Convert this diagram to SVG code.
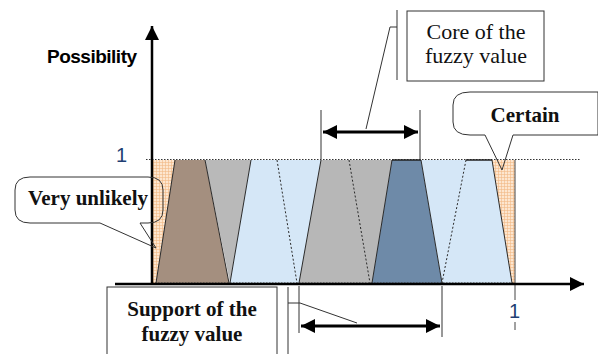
<svg xmlns="http://www.w3.org/2000/svg" width="598" height="354" viewBox="0 0 598 354">
<defs>
<style>
.edge{stroke:#2a2a2a;stroke-width:1;fill:none}
.dash{stroke:#2a2a2a;stroke-width:1;fill:none;stroke-dasharray:2 2}
.thin{stroke:#333;stroke-width:1;fill:none}
.box{fill:#fff;stroke:#333;stroke-width:1}
.tr{font-family:"Liberation Serif","Times New Roman",serif;font-size:22px;fill:#111;text-anchor:middle}
.trb{font-family:"Liberation Serif","Times New Roman",serif;font-size:21px;font-weight:bold;fill:#111;text-anchor:middle}
.ax{stroke:#000;stroke-width:2.5;fill:none}
.num{font-family:"Liberation Sans",Arial,sans-serif;font-size:20px;fill:#1f3f73}
</style>
<marker id="ah" viewBox="0 0 10 10" refX="10" refY="5" markerWidth="14" markerHeight="14" markerUnits="userSpaceOnUse" orient="auto-start-reverse">
<path d="M0,0 L10,5 L0,10 z" fill="#000"/>
</marker>
<pattern id="grid" width="3" height="3" patternUnits="userSpaceOnUse">
<rect width="3" height="3" fill="#fde6cf"/>
<path d="M0,0.5H3M0.5,0V3" stroke="#f2b884" stroke-width="0.6"/>
</pattern>
</defs>

<g id="regions">
<polygon points="152,160 175,160 156,283 152,283" fill="url(#grid)"/>
<polygon points="175,160 205,160 229,283 156,283" fill="#a48f7f"/>
<polygon points="205,160 251,160 230,283" fill="#b9b9b9"/>
<polygon points="251,160 321,160 299,283 230,283" fill="#d5e7f7"/>
<polygon points="321,160 392,160 372,283 299,283" fill="#b7b7b7"/>
<polygon points="392,160 421,160 442,283 372,283" fill="#6e8aa8"/>
<polygon points="421,160 492,160 512,283 442,283" fill="#d5e7f7"/>
<polygon points="492,160 515,160 515,283 512,283" fill="url(#grid)"/>
<line class="edge" x1="175" y1="160" x2="156" y2="283"/>
<line class="edge" x1="205" y1="160" x2="229" y2="283"/>
<line class="edge" x1="251" y1="160" x2="230" y2="283"/>
<line class="dash" x1="277" y1="160" x2="297" y2="283"/>
<line class="edge" x1="321" y1="160" x2="299" y2="283"/>
<line class="dash" x1="349" y1="160" x2="370" y2="283"/>
<line class="edge" x1="392" y1="160" x2="372" y2="283"/>
<line class="edge" x1="421" y1="160" x2="442" y2="283"/>
<line class="dash" x1="466" y1="160" x2="442" y2="283"/>
<line class="edge" x1="492" y1="160" x2="512" y2="283"/>
<line x1="146" y1="159.5" x2="580" y2="159.5" stroke="#333" stroke-width="1.2" stroke-dasharray="1.5 1.5"/>
<line x1="392" y1="160" x2="421" y2="160" stroke="#222" stroke-width="1.5"/>
<line x1="466" y1="160" x2="492" y2="160" stroke="#222" stroke-width="1.5"/>
<line x1="152" y1="283" x2="515" y2="283" stroke="#444" stroke-width="1" stroke-dasharray="1.5 1.5"/>
<line x1="515" y1="160" x2="515" y2="300" stroke="#444" stroke-width="1"/>
<line x1="515" y1="322" x2="515" y2="330" stroke="#444" stroke-width="1"/>
</g>

<g id="axes">
<line class="ax" x1="152" y1="285" x2="152" y2="26" marker-end="url(#ah)"/>
<line class="ax" x1="115" y1="284" x2="584" y2="284" marker-end="url(#ah)"/>
<text x="47" y="63" font-family="Liberation Sans,Arial,sans-serif" font-size="19" font-weight="bold" letter-spacing="-0.5" fill="#000">Possibility</text>
<text class="num" x="116" y="162">1</text>
<text class="num" x="509" y="318">1</text>
</g>

<g id="connectors">
<line class="thin" x1="321" y1="110" x2="321" y2="159"/>
<line class="thin" x1="420" y1="110" x2="420" y2="159"/>
<line x1="323" y1="132" x2="418" y2="132" stroke="#000" stroke-width="3" marker-start="url(#ah)" marker-end="url(#ah)"/>
<line class="thin" x1="299" y1="286" x2="299" y2="333"/>
<line class="thin" x1="442" y1="286" x2="442" y2="337"/>
<line x1="301" y1="326" x2="440" y2="326" stroke="#000" stroke-width="3" marker-start="url(#ah)" marker-end="url(#ah)"/>
</g>

<g id="core-label">
<polyline class="thin" points="366,129 390,27 397,27"/>
<line class="thin" x1="397" y1="10" x2="397" y2="80"/>
<rect class="box" x="407" y="11" width="137" height="70"/>
<text class="tr" x="476" y="39">Core of the</text>
<text class="tr" x="476" y="63">fuzzy value</text>
</g>

<g id="support-label">
<polyline class="thin" points="288,303 300,303 357,323" stroke="#555"/>
<line class="thin" x1="288" y1="287" x2="288" y2="354"/>
<rect class="box" x="107" y="287" width="170" height="70"/>
<text class="trb" x="192" y="316">Support of the</text>
<text class="trb" x="192" y="341">fuzzy value</text>
</g>

<g id="very-unlikely">
<path class="box" d="M30,177 H148 Q163,177 163,190 V210 Q163,223 148,223 H140 L156,248 L100,223 H30 Q15,223 15,210 V190 Q15,177 30,177 Z" style="fill:none"/>
<text class="trb" x="88" y="205">Very unlikely</text>
</g>

<g id="certain">
<path class="box" d="M470,92 H598 V135 H513 L502,170 L485,135 H470 Q453,135 453,122 V105 Q453,92 470,92 Z" style="fill:none"/>
<text class="trb" x="525" y="122">Certain</text>
</g>
</svg>
